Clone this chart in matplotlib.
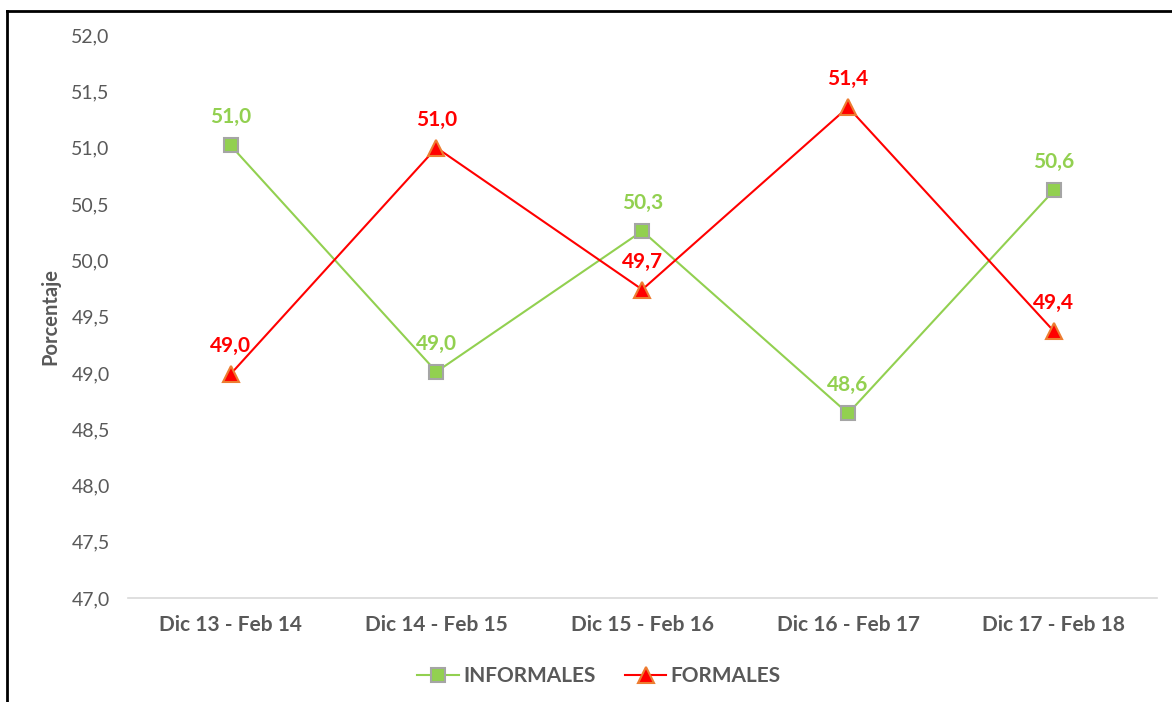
import matplotlib
matplotlib.use('Agg')
import matplotlib.pyplot as plt
from matplotlib.lines import Line2D

periodos = ['Dic 13 - Feb 14', 'Dic 14 - Feb 15', 'Dic 15 - Feb 16',
            'Dic 16 - Feb 17', 'Dic 17 - Feb 18']
informales = [51.02, 49.01, 50.26, 48.64, 50.62]
formales = [48.99, 51.00, 49.74, 51.36, 49.37]
yticks = [47.0, 47.5, 48.0, 48.5, 49.0, 49.5, 50.0, 50.5, 51.0, 51.5, 52.0]

plt.rcParams['font.family'] = ['Lato', 'DejaVu Sans']

verde = '#92D050'
rojo = '#FF0000'
gris = '#595959'

fig = plt.figure(figsize=(11.72, 7.02), dpi=100)
ax = fig.add_axes([0.109, 0.148, 0.878, 0.802])

x = range(len(periodos))
ax.plot(x, informales, color=verde, linewidth=1.5, marker='s', markersize=10,
        markerfacecolor=verde, markeredgecolor='#A5A5A5', markeredgewidth=1.5,
        label='INFORMALES', zorder=3)
ax.plot(x, formales, color=rojo, linewidth=1.5, marker='^', markersize=11,
        markerfacecolor=rojo, markeredgecolor='#ED7D31', markeredgewidth=1.5,
        label='FORMALES', zorder=3)

for i, v in enumerate(informales):
    ax.annotate(f'{v:.1f}'.replace('.', ','), (i, v), xytext=(0, 13),
                textcoords='offset points', ha='center', va='bottom',
                color=verde, fontsize=15, fontweight='bold')
for i, v in enumerate(formales):
    ax.annotate(f'{v:.1f}'.replace('.', ','), (i, v), xytext=(0, 13),
                textcoords='offset points', ha='center', va='bottom',
                color=rojo, fontsize=15, fontweight='bold')

ax.set_xlim(-0.5, len(periodos) - 0.5)
ax.set_ylim(47.0, 52.0)
ax.set_yticks(yticks)
ax.set_yticklabels([f'{t:.1f}'.replace('.', ',') for t in yticks],
                   fontsize=14, color=gris)
ax.set_xticks(list(x))
ax.set_xticklabels(periodos, fontsize=15, fontweight='bold', color=gris)
ax.tick_params(axis='y', length=0, pad=13)
ax.tick_params(axis='x', length=0, pad=12)
for s in ['top', 'right', 'left']:
    ax.spines[s].set_visible(False)
ax.spines['bottom'].set_color('#D9D9D9')
ax.spines['bottom'].set_linewidth(1.2)

ax.set_ylabel('Porcentaje', fontsize=14.5, fontweight='bold', color=gris, labelpad=8)

ax.legend(loc='upper center', bbox_to_anchor=(0.458, -0.088), ncol=2, frameon=False,
          prop={'size': 15, 'weight': 'bold'}, labelcolor=gris,
          handlelength=2.0, columnspacing=1.4, handletextpad=0.2)

# marco exterior (solo borde izquierdo y superior visibles)
fig.add_artist(Line2D([0.006, 0.006], [0.0, 0.9843], transform=fig.transFigure,
                      color='black', linewidth=2))
fig.add_artist(Line2D([0.006, 1.0], [0.9843, 0.9843], transform=fig.transFigure,
                      color='black', linewidth=2))

fig.savefig('out.png', dpi=100)
